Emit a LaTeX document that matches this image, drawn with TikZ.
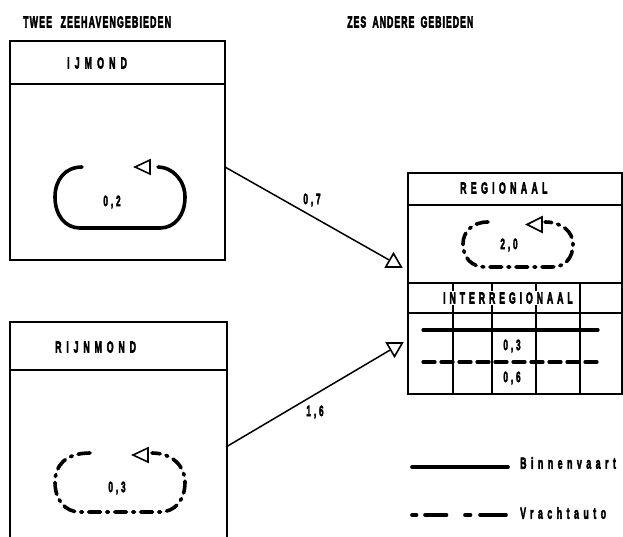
\documentclass[tikz,border=0pt]{standalone}
\usepackage{fontspec}
\newfontfamily\lbl{Liberation Sans Bold}[FakeBold=4]
\newcommand\sqz[2]{\scalebox{0.55}[1]{\addfontfeature{LetterSpace=#1}#2}}
\usetikzlibrary{shapes.geometric}
\begin{document}
\begin{tikzpicture}[x=1pt,y=-1pt,
  box/.style={draw, line width=1.8pt, inner sep=0pt, anchor=north west},
  sep/.style={line width=1.8pt},
  loopline/.style={line width=3.6pt, line cap=round},
  truck/.style={dash pattern=on 12pt off 6pt on 2pt off 6pt},
  tri/.style={draw, regular polygon, regular polygon sides=3, minimum size=18pt, inner sep=0pt, line width=1.6pt},
  conn/.style={line width=1.5pt},
  txt/.style={font=\lbl\fontsize{16}{16}\selectfont, inner sep=0pt},
  head/.style={txt, anchor=west},
  num/.style={txt, font=\lbl\fontsize{15}{15}\selectfont}
]
\useasboundingbox (0,0) rectangle (623,537);

% IJmond box
\node[box, minimum width=215pt, minimum height=219pt] (ij) at (9,40) {};
\draw[sep] (9,84) -- (224,84);

% Rijnmond box
\node[box, minimum width=217pt, minimum height=218pt] (rn) at (9,321) {};
\draw[sep] (9,370) -- (226,370);

% right box
\node[box, minimum width=214pt, minimum height=221pt] (rb) at (407,172) {};
\draw[sep] (407,205) -- (621,205);
\draw[sep] (407,283) -- (621,283);
\draw[sep] (407,313) -- (621,313);
\foreach \x in {453,492,536,580} \draw[sep] (\x,283) -- (\x,393);

% headings
\node[head] (h1) at (23,22) {\sqz{13}{TWEE\hspace{9pt} ZEEHAVENGEBIEDEN}};
\node[head] (h2) at (347,22) {\sqz{11}{ZES\hspace{5pt} ANDERE\hspace{5pt} GEBIEDEN}};
\node[head] (ijt) at (67,63) {\sqz{58}{IJMOND}};
\node[head] (rnt) at (55,347) {\sqz{55}{RIJNMOND}};
\node[head, fill=white, inner xsep=1pt, inner ysep=1pt] (irt) at (442,298) {\sqz{44}{INTERREGIONAAL}};
\node[head] (rgt) at (460,188) {\sqz{49}{REGIONAAL}};

% grid lines in interregionaal
\draw[loopline, line width=3.2pt] (423,330) -- (598,330);
\draw[loopline, line width=3.2pt, dash pattern=on 12pt off 6pt] (423,362) -- (598,362);
\node[num] (n03b) at (512,346) {\sqz{35}{0,3}};
\node[num] (n06) at (512,378) {\sqz{35}{0,6}};

% IJmond loop
\draw[loopline] (82,167) .. controls (65,167) and (55,180) .. (55,197)
  .. controls (55,215) and (65,228) .. (80,228) -- (160,228)
  .. controls (175,228) and (185,215) .. (185,197)
  .. controls (185,180) and (172,167) .. (158,167);
\draw[line width=1.6pt, line join=miter] (135,167) -- (150,160) -- (150,174) -- cycle;
\node[num] (n02) at (112,202) {\sqz{35}{0,2}};

% Rijnmond loop
\draw[loopline, truck] (90,453) .. controls (65,453) and (55,466) .. (55,482)
  .. controls (55,500) and (65,512) .. (80,512) -- (160,512)
  .. controls (175,512) and (185,500) .. (185,482)
  .. controls (185,466) and (172,453) .. (152,453);
\draw[line width=1.6pt] (133,455) -- (148,448) -- (148,462) -- cycle;
\node[num] (n03) at (117,488) {\sqz{35}{0,3}};

% Regionaal loop
\draw[loopline, truck] (488,222) .. controls (472,222) and (463,232) .. (463,244)
  .. controls (463,258) and (472,267) .. (485,267) -- (552,267)
  .. controls (565,267) and (573,258) .. (573,244)
  .. controls (573,232) and (562,222) .. (545,222);
\draw[line width=1.6pt] (527,224.5) -- (542,217) -- (542,232) -- cycle;
\node[num] (n20) at (509,245) {\sqz{35}{2,0}};

% connectors
\coordinate (c1) at (225,167);
\coordinate (c2) at (226,447);
\node[tri] (t1) at (393.5,262.5) {};
\node[tri, shape border rotate=180] (t2) at (394.5,347.5) {};
\draw[conn] (c1) -- (t1.side 1);
\draw[conn] (c2) -- (t2.side 3);
\node[num] (l07) at (312,200) {\sqz{35}{0,7}};
\node[num] (l16) at (315,412) {\sqz{35}{1,6}};

% legend
\coordinate (b1) at (412,467);
\coordinate (b2) at (508,467);
\coordinate (v1) at (412,515);
\coordinate (v2) at (506,515);
\draw[loopline] (b1) -- (b2);
\draw[loopline, dash pattern=on 4.5pt off 8.5pt on 21.5pt off 18.5pt on 5.5pt off 9.5pt on 26pt off 100pt] (v1) -- (v2);
\node[head] (lb) at (520,463) {\sqz{51}{Binnenvaart}};
\node[head] (lv) at (520,513) {\sqz{51}{Vrachtauto}};
\end{tikzpicture}
\end{document}
